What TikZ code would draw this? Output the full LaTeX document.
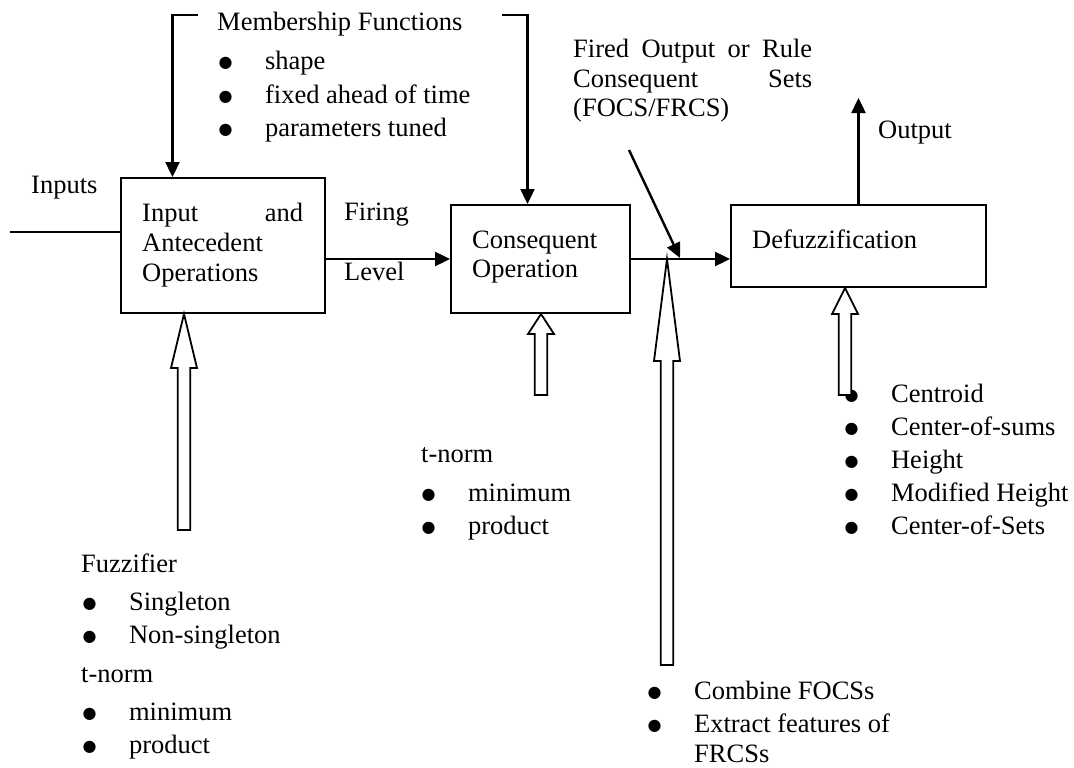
\documentclass[tikz,border=0pt]{standalone}
\usepackage{fontspec}
\setmainfont{Liberation Serif}
\newfontfamily\djv{DejaVu Sans}
\usetikzlibrary{arrows.meta,calc}
\tikzset{
 box/.style={draw, line width=2pt, inner sep=0pt},
 conn/.style={line width=2.4pt, line join=miter},
 arr/.style={conn, -{Triangle[length=15pt,width=14pt]}},
 hol/.style={draw, fill=white, line width=1.8pt, line join=miter},
 txt/.style={anchor=base west, inner sep=0pt, font=\fontsize{26.5}{30}\selectfont},
}
\newcommand{\bul}{\raisebox{2pt}{\djv\fontsize{16}{16}\selectfont ●}}
\newcommand{\blt}[1]{\makebox[46.5pt][l]{\bul}#1}
\newcommand{\hollowup}[3]{%
 \draw[hol] let \p1=(#1), \p2=(#2) in
  (\x1-6.3pt,\y1) -- (\x1-6.3pt,\y2-#3pt) -- (\x1-13pt,\y2-#3pt) -- (\x1,\y2)
  -- (\x1+13pt,\y2-#3pt) -- (\x1+6.3pt,\y2-#3pt) -- (\x1+6.3pt,\y1) -- cycle;}
\begin{document}
\begin{tikzpicture}[x=1pt,y=-1pt]
\fill[white] (0,0) rectangle (1074,768);
\useasboundingbox (0,0) rectangle (1074,768);

% texts
\node[txt] (mf) at (217,31) {Membership Functions};
\node[txt] (mf1) at (218.4,70) {\blt{shape}};
\node[txt] (mf2) at (218.4,103) {\blt{fixed ahead of time}};
\node[txt] (mf3) at (218.4,136) {\blt{parameters tuned}};
\node[txt] (inl) at (31,193) {Inputs};
\node[txt] (t1a) at (142,221) {\hbox to 161pt{Input\hfill and}};
\node[txt] (t1b) at (142,251) {Antecedent};
\node[txt] (t1c) at (142,281) {Operations};
\node[txt] (fir) at (344,220) {Firing};
\node[txt] (lev) at (344,280) {Level};
\node[txt] (t2a) at (472,248) {Consequent};
\node[txt] (t2b) at (472,277) {Operation};
\node[txt] (t3) at (752,248) {Defuzzification};
\node[txt] (fo1) at (573,58) {\hbox to 239pt{Fired\hfill Output\hfill or\hfill Rule}};
\node[txt] (fo2) at (573,88) {\hbox to 239pt{Consequent\hfill Sets}};
\node[txt] (fo3) at (573,117) {(FOCS/FRCS)};
\node[txt] (out) at (878,139) {Output};

\node[txt] (tn2) at (421,462) {t-norm};
\node[txt] (tn2a) at (421.4,501) {\blt{minimum}};
\node[txt] (tn2b) at (421.4,534) {\blt{product}};

\node[txt] (fz) at (81,572) {Fuzzifier};
\node[txt] (fz1) at (82.4,610) {\blt{Singleton}};
\node[txt] (fz2) at (82.4,643) {\blt{Non-singleton}};
\node[txt] (tn1) at (81,682) {t-norm};
\node[txt] (tn1a) at (82.4,720) {\blt{minimum}};
\node[txt] (tn1b) at (82.4,753) {\blt{product}};

\node[txt] (d1) at (844.4,402) {\blt{Centroid}};
\node[txt] (d2) at (844.4,435) {\blt{Center-of-sums}};
\node[txt] (d3) at (844.4,468) {\blt{Height}};
\node[txt] (d4) at (844.4,501) {\blt{Modified Height}};
\node[txt] (d5) at (844.4,534) {\blt{Center-of-Sets}};

\node[txt] (c1) at (647.4,699) {\blt{Combine FOCSs}};
\node[txt] (c2) at (647.4,732) {\blt{Extract features of}};
\node[txt] (c3) at (694,762) {FRCSs};

% boxes
\node[box, minimum width=204pt, minimum height=135pt] (b1) at (223,245.5) {};
\node[box, minimum width=179pt, minimum height=108pt] (b2) at (540.5,259) {};
\node[box, minimum width=255pt, minimum height=82pt] (b3) at (858.5,246) {};

% hollow arrows
\coordinate (h1) at (184,530);
\coordinate (h2) at (541,395);
\coordinate (h3) at (667,665);
\coordinate (h4) at (845,395);
\hollowup{h1}{h1 |- b1.south}{54}
\hollowup{h2}{h2 |- b2.south}{20}
\hollowup{h3}{h3 |- b2.east}{102}
\hollowup{h4}{h4 |- b3.south}{26}

% connectors
\coordinate (inp) at (10,232);
\draw[conn] (inp) -- (inp -| b1.west);
\draw[arr] (b1.east |- b2.west) -- (b2.west);
\draw[arr] (b2.east) -- (b3.west |- b2.east);
\coordinate (fs) at (629,150);
\coordinate (fe) at (680,258);
\draw[arr] (fs) -- (fe);
\coordinate (ot) at (858,98);
\draw[arr] (b3.north) -- (b3.north |- ot);
\coordinate (mfl) at (197.5,15);
\coordinate (mflc) at (172.5,15);
\draw[arr] (mfl) -- (mflc) -- (mflc |- b1.north);
\coordinate (mfr) at (502,15);
\coordinate (mfrc) at (527.5,15);
\draw[arr] (mfr) -- (mfrc) -- (mfrc |- b2.north);
\end{tikzpicture}
\end{document}
